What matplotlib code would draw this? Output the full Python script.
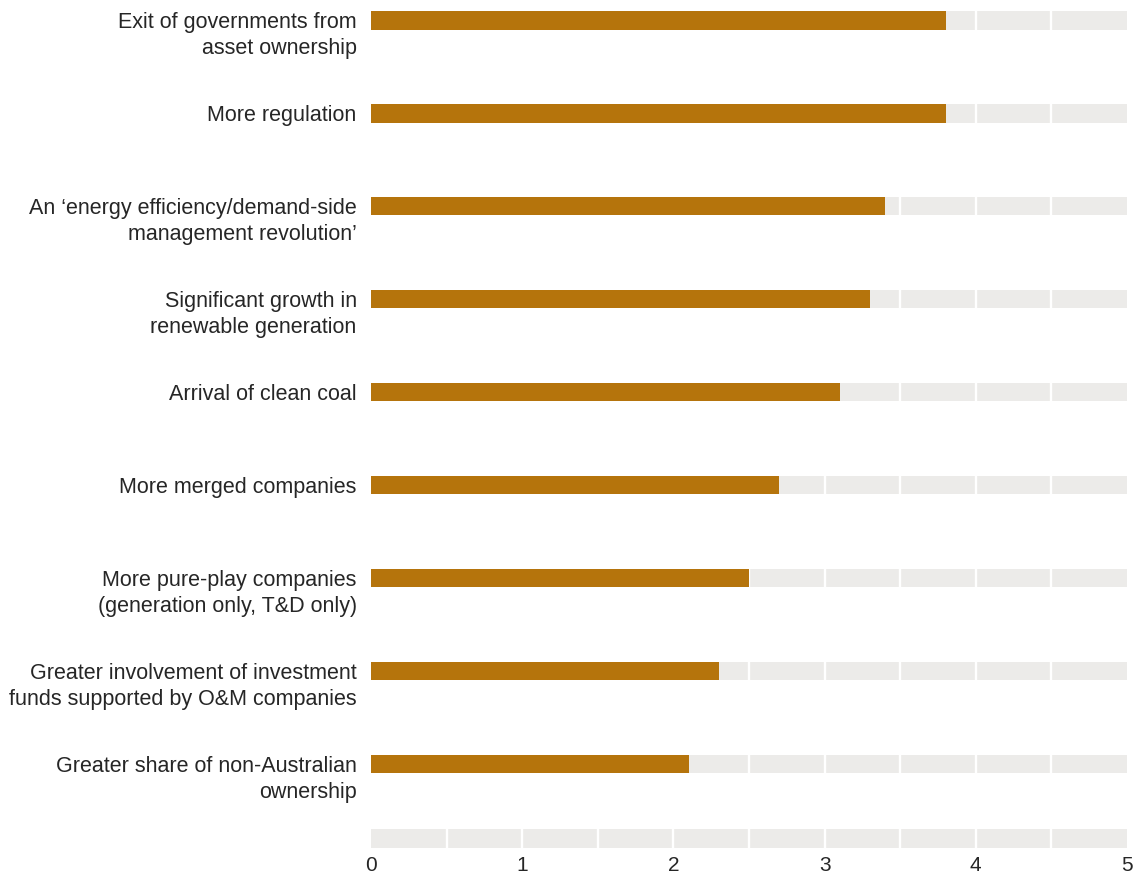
import matplotlib.pyplot as plt
import matplotlib.transforms as mtransforms

labels = [
    "Exit of governments from\nasset ownership",
    "More regulation",
    "An \u2018energy efficiency/demand-side\nmanagement revolution\u2019",
    "Significant growth in\nrenewable generation",
    "Arrival of clean coal",
    "More merged companies",
    "More pure-play companies\n(generation only, T&D only)",
    "Greater involvement of investment\nfunds supported by O&M companies",
    "Greater share of non-Australian\nownership",
]
values = [3.8, 3.8, 3.4, 3.3, 3.1, 2.7, 2.5, 2.3, 2.1]
xticks = [0, 1, 2, 3, 4, 5]

BAR = "#b5740c"
TRACK = "#ecebe9"
TEXT = "#262626"

plt.rcParams["font.family"] = ["Liberation Sans", "DejaVu Sans"]

fig = plt.figure(figsize=(11.33, 8.79), dpi=100)
ax = fig.add_axes([371 / 1133, 29 / 879, 756 / 1133, 850 / 879])

pos = list(range(len(labels)))
h = 0.204
bottom_track = len(labels) - 1 + 0.806

# grey tracks behind every bar plus the empty one above the axis
ax.barh(pos + [bottom_track], [5] * (len(pos) + 1), height=h, color=TRACK, zorder=1)
for k in range(1, 10):
    ax.axvline(k * 0.5, color="white", lw=1.7, zorder=2)
ax.barh(pos, values, height=h, color=BAR, zorder=3)

ax.set_xlim(0, 5)
ax.set_ylim(8.914, -0.226)

# labels: right aligned, first line centred on the bar
for p, lab in zip(pos, labels):
    t = mtransforms.blended_transform_factory(ax.transAxes, ax.transData)
    t = mtransforms.offset_copy(t, fig=fig, x=-10.3, y=6.8, units="points")
    ax.text(0, p, lab, transform=t, ha="right", va="top", fontsize=15.5,
            color=TEXT, linespacing=1.36)

ax.set_xticks(xticks)
ax.set_xticklabels([str(x) for x in xticks], fontsize=15, color=TEXT)
ax.tick_params(axis="x", length=0, pad=4.5)
ax.set_yticks([])
for s in ax.spines.values():
    s.set_visible(False)

fig.savefig("out.png", dpi=100)
